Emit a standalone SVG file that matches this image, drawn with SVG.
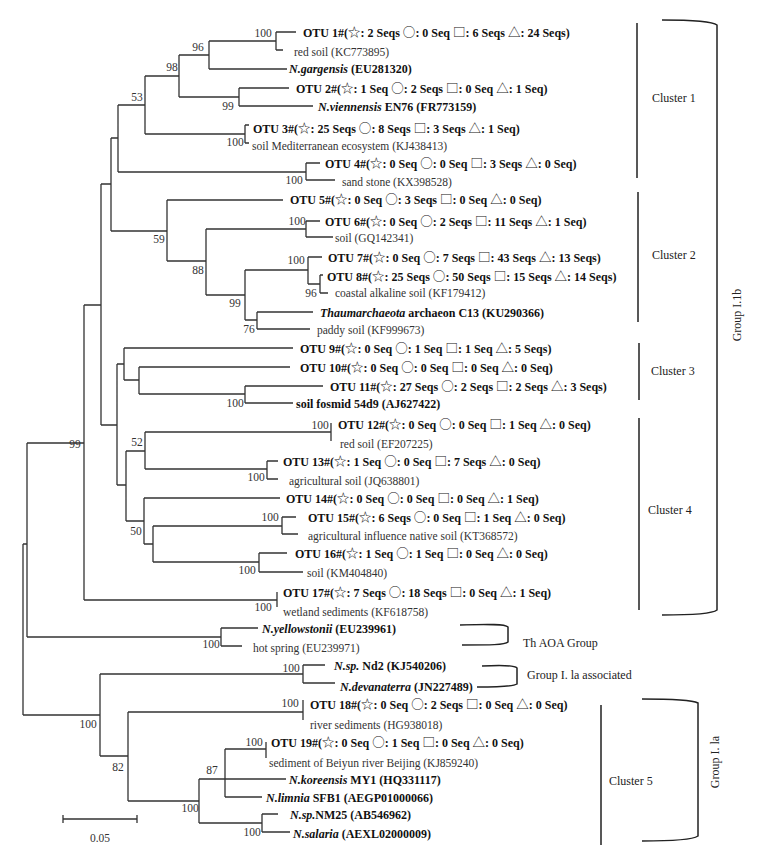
<svg xmlns="http://www.w3.org/2000/svg" width="759" height="860" viewBox="0 0 759 860">
<style>
text{font-family:"Liberation Serif","DejaVu Serif","DejaVu Sans",serif;}
.b{font-weight:bold;font-size:12px;fill:#111;}
.r{font-size:11.5px;fill:#333;}
.i{font-style:italic;}
.s{font-family:"Noto Sans CJK SC","DejaVu Sans",sans-serif;font-weight:normal;font-size:12.5px;}
.bs{font-size:11.5px;fill:#333;text-anchor:middle;}
.br{fill:none;stroke:#333;stroke-width:1.3;}
.cl{fill:none;stroke:#222;stroke-width:1.5;}
.g{font-size:12px;fill:#222;}
</style>
<rect width="759" height="860" fill="#fff"/>
<g id="branches" class="br">
<path d="M23 544V715M23 544H27M27 443V637M27 443H84M84 305V600M84 305H101M101 184V425M101 184H111M111 138V231M111 138H118M118 105V172M118 105H145M145 76V134M145 76H179M179 55V97M179 55H209M209 41V69M209 41H276M276 32V50M276 32H296M276 50H283M209 69H287M179 97H239M239 88V106M239 88H289M239 106H313M145 134H245M245 125V143M245 125H249M245 143H249M118 172H306M306 163V180M306 163H320M306 180H335"/>
<path d="M111 231H167M167 200V261M167 200H283M167 261H206M206 229V295M206 229H306M306 221V237M306 221H320M306 237H333M206 295H245M245 270V320M245 270H308M308 257V284M308 257H322M308 284H320M320 275V293M320 275H323M320 293H328M245 320H257M257 312V329M257 312H313M257 329H310"/>
<path d="M101 425H117M117 364V485M117 364H124M124 348V380M124 348H293M124 380H139M139 367V394M139 367H290M139 394H245M245 386V403M245 386H323M245 403H293"/>
<path d="M117 485H126M126 451V521M126 451H145M145 432V469M145 432H331M331 423V441M145 469H267M267 461V479M267 461H278M267 479H278M126 521H144M144 498V544M144 498H280M144 544H153M153 526V562M153 526H282M282 517V534M282 517H296M282 534H298M153 562H259M259 553V572M259 553H287M259 572H303M84 600H277M277 592V607"/>
<path d="M27 637H221M221 628V646M221 628H258M221 646H242M23 715H100M100 674V756M100 674H303M303 665V683M303 665H325M303 683H335M100 756H128M128 712V801M128 712H303M303 700V720M128 801H199M199 779V823M199 779H225M225 749V797M225 779H286M225 797H262M225 749H266M266 742V758M199 823H262M262 814V832M262 814H278M262 832H290"/>
</g>
<g id="bootstrap">
<text class="bs" x="263" y="37">100</text>
<text class="bs" x="198" y="51">96</text>
<text class="bs" x="172" y="71">98</text>
<text class="bs" x="137" y="101">53</text>
<text class="bs" x="228" y="110">99</text>
<text class="bs" x="235" y="146">100</text>
<text class="bs" x="294" y="184">100</text>
<text class="bs" x="297" y="225">100</text>
<text class="bs" x="159" y="243">59</text>
<text class="bs" x="296" y="264">100</text>
<text class="bs" x="198" y="274">88</text>
<text class="bs" x="311" y="297">96</text>
<text class="bs" x="235" y="307">99</text>
<text class="bs" x="249" y="333">76</text>
<text class="bs" x="235" y="407">100</text>
<text class="bs" x="320" y="429">100</text>
<text class="bs" x="137" y="446">52</text>
<text class="bs" x="75" y="448">99</text>
<text class="bs" x="256" y="481">100</text>
<text class="bs" x="270" y="521">100</text>
<text class="bs" x="136" y="535">50</text>
<text class="bs" x="247" y="574">100</text>
<text class="bs" x="263" y="611">100</text>
<text class="bs" x="211" y="648">100</text>
<text class="bs" x="291" y="672">100</text>
<text class="bs" x="290" y="707">100</text>
<text class="bs" x="88" y="728">100</text>
<text class="bs" x="254" y="746">100</text>
<text class="bs" x="118" y="771">82</text>
<text class="bs" x="212" y="774">87</text>
<text class="bs" x="190" y="812">100</text>
<text class="bs" x="252" y="836">100</text>
</g>
<g id="otu1"><text class="b" x="303" y="37">OTU 1#(<tspan class="s">☆</tspan>: 2 Seqs <tspan class="s">○</tspan>: 0 Seq <tspan class="s">□</tspan>: 6 Seqs <tspan class="s">△</tspan>: 24 Seqs)</text></g>
<g id="kc773895"><text class="r" x="294" y="56">red soil (KC773895)</text></g>
<g id="n-gargensis"><text class="b" x="289" y="73"><tspan class="i">N.gargensis</tspan> (EU281320)</text></g>
<g id="otu2"><text class="b" x="296" y="93">OTU 2#(<tspan class="s">☆</tspan>: 1 Seq <tspan class="s">○</tspan>: 2 Seqs <tspan class="s">□</tspan>: 0 Seq <tspan class="s">△</tspan>: 1 Seq)</text></g>
<g id="n-viennensis"><text class="b" x="318" y="111"><tspan class="i">N.viennensis</tspan> EN76 (FR773159)</text></g>
<g id="otu3"><text class="b" x="253" y="133">OTU 3#(<tspan class="s">☆</tspan>: 25 Seqs <tspan class="s">○</tspan>: 8 Seqs <tspan class="s">□</tspan>: 3 Seqs <tspan class="s">△</tspan>: 1 Seq)</text></g>
<g id="kj438413"><text class="r" x="252" y="150">soil Mediterranean ecosystem (KJ438413)</text></g>
<g id="otu4"><text class="b" x="325" y="168">OTU 4#(<tspan class="s">☆</tspan>: 0 Seq <tspan class="s">○</tspan>: 0 Seq <tspan class="s">□</tspan>: 3 Seqs <tspan class="s">△</tspan>: 0 Seq)</text></g>
<g id="kx398528"><text class="r" x="342" y="186">sand stone (KX398528)</text></g>
<g id="otu5"><text class="b" x="290" y="204">OTU 5#(<tspan class="s">☆</tspan>: 0 Seq <tspan class="s">○</tspan>: 3 Seqs <tspan class="s">□</tspan>: 0 Seq <tspan class="s">△</tspan>: 0 Seq)</text></g>
<g id="otu6"><text class="b" x="325" y="226">OTU 6#(<tspan class="s">☆</tspan>: 0 Seq <tspan class="s">○</tspan>: 2 Seqs <tspan class="s">□</tspan>: 11 Seqs <tspan class="s">△</tspan>: 1 Seq)</text></g>
<g id="gq142341"><text class="r" x="335" y="242">soil (GQ142341)</text></g>
<g id="otu7"><text class="b" x="328" y="262">OTU 7#(<tspan class="s">☆</tspan>: 0 Seq <tspan class="s">○</tspan>: 7 Seqs <tspan class="s">□</tspan>: 43 Seqs <tspan class="s">△</tspan>: 13 Seqs)</text></g>
<g id="otu8"><text class="b" x="327" y="281">OTU 8#(<tspan class="s">☆</tspan>: 25 Seqs <tspan class="s">○</tspan>: 50 Seqs <tspan class="s">□</tspan>: 15 Seqs <tspan class="s">△</tspan>: 14 Seqs)</text></g>
<g id="kf179412"><text class="r" x="335" y="297">coastal alkaline soil (KF179412)</text></g>
<g id="thaumarchaeota"><text class="b" x="320" y="317"><tspan class="i">Thaumarchaeota</tspan> archaeon C13 (KU290366)</text></g>
<g id="kf999673"><text class="r" x="317" y="334">paddy soil (KF999673)</text></g>
<g id="otu9"><text class="b" x="300" y="353">OTU 9#(<tspan class="s">☆</tspan>: 0 Seq <tspan class="s">○</tspan>: 1 Seq <tspan class="s">□</tspan>: 1 Seq <tspan class="s">△</tspan>: 5 Seqs)</text></g>
<g id="otu10"><text class="b" x="300" y="372">OTU 10#(<tspan class="s">☆</tspan>: 0 Seq <tspan class="s">○</tspan>: 0 Seq <tspan class="s">□</tspan>: 0 Seq <tspan class="s">△</tspan>: 0 Seq)</text></g>
<g id="otu11"><text class="b" x="330" y="391">OTU 11#(<tspan class="s">☆</tspan>: 27 Seqs <tspan class="s">○</tspan>: 2 Seqs <tspan class="s">□</tspan>: 2 Seqs <tspan class="s">△</tspan>: 3 Seqs)</text></g>
<g id="aj627422"><text class="b" x="296" y="408">soil fosmid 54d9 (AJ627422)</text></g>
<g id="otu12"><text class="b" x="338" y="429">OTU 12#(<tspan class="s">☆</tspan>: 0 Seq <tspan class="s">○</tspan>: 0 Seq <tspan class="s">□</tspan>: 1 Seq <tspan class="s">△</tspan>: 0 Seq)</text></g>
<g id="ef207225"><text class="r" x="340" y="448">red soil (EF207225)</text></g>
<g id="otu13"><text class="b" x="283" y="466">OTU 13#(<tspan class="s">☆</tspan>: 1 Seq <tspan class="s">○</tspan>: 0 Seq <tspan class="s">□</tspan>: 7 Seqs <tspan class="s">△</tspan>: 0 Seq)</text></g>
<g id="jq638801"><text class="r" x="289" y="485">agricultural soil (JQ638801)</text></g>
<g id="otu14"><text class="b" x="286" y="503">OTU 14#(<tspan class="s">☆</tspan>: 0 Seq <tspan class="s">○</tspan>: 0 Seq <tspan class="s">□</tspan>: 0 Seq <tspan class="s">△</tspan>: 1 Seq)</text></g>
<g id="otu15"><text class="b" x="308" y="522">OTU 15#(<tspan class="s">☆</tspan>: 6 Seqs <tspan class="s">○</tspan>: 0 Seq <tspan class="s">□</tspan>: 1 Seq <tspan class="s">△</tspan>: 0 Seq)</text></g>
<g id="kt368572"><text class="r" x="308" y="540">agricultural influence native soil (KT368572)</text></g>
<g id="otu16"><text class="b" x="295" y="558">OTU 16#(<tspan class="s">☆</tspan>: 1 Seq <tspan class="s">○</tspan>: 1 Seq <tspan class="s">□</tspan>: 0 Seq <tspan class="s">△</tspan>: 0 Seq)</text></g>
<g id="km404840"><text class="r" x="307" y="577">soil (KM404840)</text></g>
<g id="otu17"><text class="b" x="283" y="597">OTU 17#(<tspan class="s">☆</tspan>: 7 Seqs <tspan class="s">○</tspan>: 18 Seqs <tspan class="s">□</tspan>: 0 Seq <tspan class="s">△</tspan>: 1 Seq)</text></g>
<g id="kf618758"><text class="r" x="283" y="616">wetland sediments (KF618758)</text></g>
<g id="n-yellowstonii"><text class="b" x="262" y="633"><tspan class="i">N.yellowstonii</tspan> (EU239961)</text></g>
<g id="eu239971"><text class="r" x="253" y="652">hot spring (EU239971)</text></g>
<g id="n-sp-nd2"><text class="b" x="334" y="670"><tspan class="i">N.sp.</tspan> Nd2 (KJ540206)</text></g>
<g id="n-devanaterra"><text class="b" x="340" y="690.5"><tspan class="i">N.devanaterra</tspan> (JN227489)</text></g>
<g id="otu18"><text class="b" x="310" y="709">OTU 18#(<tspan class="s">☆</tspan>: 0 Seq <tspan class="s">○</tspan>: 2 Seqs <tspan class="s">□</tspan>: 0 Seq <tspan class="s">△</tspan>: 0 Seq)</text></g>
<g id="hg938018"><text class="r" x="310" y="729">river sediments (HG938018)</text></g>
<g id="otu19"><text class="b" x="271" y="747">OTU 19#(<tspan class="s">☆</tspan>: 0 Seq <tspan class="s">○</tspan>: 1 Seq <tspan class="s">□</tspan>: 0 Seq <tspan class="s">△</tspan>: 0 Seq)</text></g>
<g id="kj859240"><text class="r" x="269" y="767">sediment of Beiyun river Beijing (KJ859240)</text></g>
<g id="n-koreensis"><text class="b" x="289" y="784"><tspan class="i">N.koreensis</tspan> MY1 (HQ331117)</text></g>
<g id="n-limnia"><text class="b" x="266" y="802"><tspan class="i">N.limnia</tspan> SFB1 (AEGP01000066)</text></g>
<g id="n-sp-nm25"><text class="b" x="290" y="819"><tspan class="i">N.sp.</tspan>NM25 (AB546962)</text></g>
<g id="n-salaria"><text class="b" x="293" y="838"><tspan class="i">N.salaria</tspan> (AEXL02000009)</text></g>
<g id="scale-bar">
<path class="br" d="M63 819H137M63 815V823M137 815V823"/>
<text class="bs" x="100" y="842">0.05</text>
</g>
<g id="brackets">
<path class="cl" d="M637 23V178M638 192V322M639 343V400M639 418V610M601 705V845"/>
<path class="cl" d="M662 20C690 20 712 21 717 25V610C712 614 690 615 662 615"/>
<path class="cl" d="M642 699C670 699 692 700 698 703V836C692 840 670 841 642 841"/>
<path class="cl" d="M460 625C490 624 505 624 508 627V642C505 645 490 645 462 645"/>
<path class="cl" d="M482 666C500 665 514 665 517 668V684C514 686 500 687 477 687"/>
</g>
<g id="cluster1"><text class="g" x="652" y="102">Cluster 1</text></g>
<g id="cluster2"><text class="g" x="652" y="259">Cluster 2</text></g>
<g id="cluster3"><text class="g" x="651" y="375">Cluster 3</text></g>
<g id="cluster4"><text class="g" x="648" y="514">Cluster 4</text></g>
<g id="cluster5"><text class="g" x="609" y="785">Cluster 5</text></g>
<g id="group-1b"><text class="g" transform="translate(741 315) rotate(-90)" text-anchor="middle">Group I.1b</text></g>
<g id="group-1a"><text class="g" transform="translate(719 762) rotate(-90)" text-anchor="middle">Group I. la</text></g>
<g id="th-aoa"><text class="g" x="523" y="647">Th AOA Group</text></g>
<g id="group-1a-assoc"><text class="g" x="527" y="679">Group I. la associated</text></g>
</svg>
